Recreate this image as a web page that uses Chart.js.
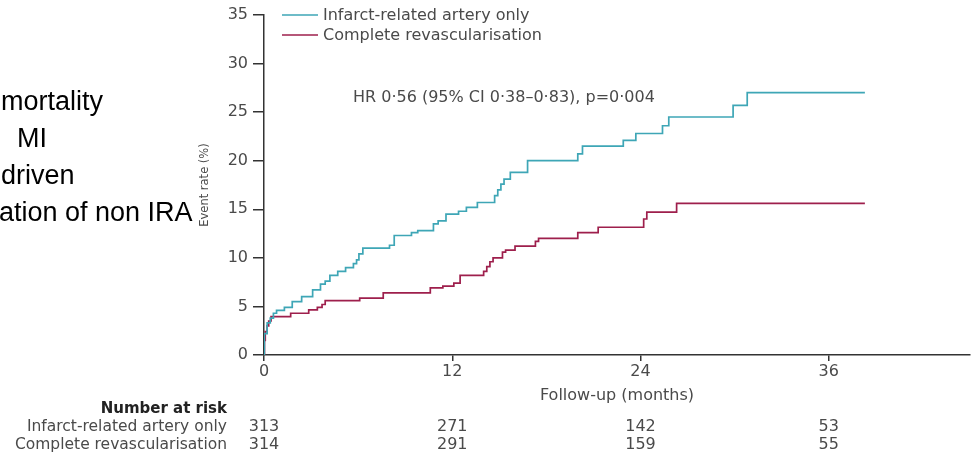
<!DOCTYPE html>
<html>
<head>
<meta charset="utf-8">
<title>Event rate by follow-up</title>
<script src="https://cdn.jsdelivr.net/npm/chart.js@4.4.1/dist/chart.umd.min.js"></script>
<style>
  html, body { margin: 0; padding: 0; background: #fff; }
  canvas { display: block; }
</style>
</head>
<body>
<canvas id="km" width="977" height="457"></canvas>
<script>
// series (month the level starts, cumulative event rate %)
const seriesNames = ['Infarct-related artery only', 'Complete revascularisation'];

const iraMonths = [0, 0.02, 0.2, 0.4, 0.6, 0.8, 1.3, 1.8, 2.4, 3.1, 3.6, 3.9, 4.2, 4.7, 5.2, 5.7, 5.9, 6.05, 6.3,
  8.0, 8.3, 9.4, 9.8, 10.8, 11.1, 11.6, 12.4, 12.9, 13.6, 14.7, 14.9, 15.1, 15.3, 15.7, 16.8,
  20.0, 20.3, 22.9, 23.7, 25.4, 25.8, 29.9, 30.8, 38.3];
const iraRates = [0, 2.2, 3.3, 3.8, 4.3, 4.6, 4.9, 5.5, 6.0, 6.7, 7.3, 7.6, 8.2, 8.6, 9.0, 9.4, 9.8, 10.4, 11.0,
  11.3, 12.3, 12.6, 12.8, 13.5, 13.8, 14.5, 14.8, 15.2, 15.7, 16.4, 17.0, 17.6, 18.1, 18.8, 20.0,
  20.7, 21.5, 22.1, 22.8, 23.6, 24.5, 25.7, 27.0, 27.0];

const crMonths = [0, 0.03, 0.08, 0.2, 0.3, 0.45, 1.7, 2.85, 3.4, 3.7, 3.9, 6.1, 7.6, 10.6, 11.4, 12.1, 12.5,
  14.0, 14.2, 14.4, 14.6, 15.2, 15.4, 16.0, 17.3, 17.5, 20.0, 21.3, 24.2, 24.4, 26.3, 38.3];
const crRates = [0, 1.5, 2.4, 3.0, 3.5, 3.95, 4.3, 4.65, 4.9, 5.2, 5.6, 5.85, 6.4, 6.9, 7.1, 7.4, 8.2,
  8.6, 9.1, 9.6, 10.0, 10.6, 10.8, 11.2, 11.7, 12.0, 12.6, 13.15, 14.0, 14.7, 15.6, 15.6];

const xTicks = [0, 12, 24, 36];
const riskTimes = [0, 12, 24, 36];
const iraAtRisk = [313, 271, 142, 53];
const crAtRisk = [314, 291, 159, 55];

const hrText = 'HR 0·56 (95% CI 0·38–0·83), p=0·004';
const slideLines = ['mortality', 'MI', 'driven', 'ation of non IRA'];

const cyan = '#3ea6b6';
const crimson = '#9e1f4c';
const grey = '#4a4a4a';
const sans = '"DejaVu Sans", Verdana, sans-serif';

function toPoints(xs, ys) {
  return xs.map((m, i) => ({ x: m, y: ys[i] }));
}

// legend, HR label, number-at-risk table and the clipped slide text
const extras = {
  id: 'extras',
  afterDraw(chart) {
    const ctx = chart.ctx;
    const xs = chart.scales.x;
    ctx.save();

    ctx.fillStyle = '#000';
    ctx.font = '27px "Liberation Sans", Arial, sans-serif';
    ctx.textAlign = 'left';
    ctx.textBaseline = 'alphabetic';
    const slideX = [1, 17, 1, -1];
    slideLines.forEach((s, i) => ctx.fillText(s, slideX[i], 110 + i * 37));

    // legend
    const colors = [cyan, crimson];
    ctx.font = '16px ' + sans;
    ctx.textBaseline = 'middle';
    seriesNames.forEach((name, i) => {
      const y = 15 + i * 20;
      ctx.strokeStyle = colors[i];
      ctx.lineWidth = 1.6;
      ctx.beginPath();
      ctx.moveTo(282, y);
      ctx.lineTo(318, y);
      ctx.stroke();
      ctx.fillStyle = grey;
      ctx.fillText(name, 323, y + 1);
    });

    ctx.fillText(hrText, 353, 98);

    // number at risk
    ctx.textAlign = 'right';
    ctx.fillStyle = '#222';
    ctx.font = 'bold 15px ' + sans;
    ctx.fillText('Number at risk', 227, 409);
    ctx.fillStyle = grey;
    ctx.font = '15.5px ' + sans;
    ctx.fillText(seriesNames[0], 227, 427);
    ctx.fillText(seriesNames[1], 227, 445);
    ctx.textAlign = 'center';
    ctx.font = '16px ' + sans;
    riskTimes.forEach((t, i) => {
      const px = xs.getPixelForValue(t);
      ctx.fillText(String(iraAtRisk[i]), px, 427);
      ctx.fillText(String(crAtRisk[i]), px, 445);
    });
    ctx.restore();
  }
};

new Chart(document.getElementById('km'), {
  type: 'line',
  data: {
    datasets: [
      { label: seriesNames[0], data: toPoints(iraMonths, iraRates), borderColor: cyan },
      { label: seriesNames[1], data: toPoints(crMonths, crRates), borderColor: crimson }
    ]
  },
  options: {
    responsive: false,
    animation: false,
    parsing: false,
    layout: { padding: { left: 190, right: 7, top: 15, bottom: 0 } },
    elements: {
      line: { stepped: 'before', borderWidth: 1.7, fill: false },
      point: { radius: 0, hoverRadius: 0 }
    },
    plugins: { legend: { display: false }, tooltip: { enabled: false } },
    scales: {
      x: {
        type: 'linear',
        min: 0,
        max: 45,
        afterBuildTicks: s => { s.ticks = xTicks.map(v => ({ value: v })); },
        afterFit: s => { s.height = 102; },
        grid: { drawOnChartArea: false, drawTicks: true, tickLength: 6, color: '#333', lineWidth: 1.5 },
        border: { display: true, color: '#333', width: 1.5 },
        ticks: { color: grey, padding: 1, maxRotation: 0, font: { family: sans, size: 16 } },
        title: { display: true, text: 'Follow-up (months)', color: grey, padding: { bottom: 52 }, font: { family: sans, size: 16 } }
      },
      y: {
        min: 0,
        max: 35,
        ticks: { stepSize: 5, color: grey, padding: 5, font: { family: sans, size: 16 } },
        afterFit: s => { s.width = 74; },
        grid: { drawOnChartArea: false, drawTicks: true, tickLength: 11, color: '#333', lineWidth: 1.5 },
        border: { display: true, color: '#333', width: 1.5 },
        title: { display: true, text: 'Event rate (%)', color: grey, padding: { top: 8 }, font: { family: sans, size: 11.5 } }
      }
    }
  },
  plugins: [extras]
});
</script>
</body>
</html>
